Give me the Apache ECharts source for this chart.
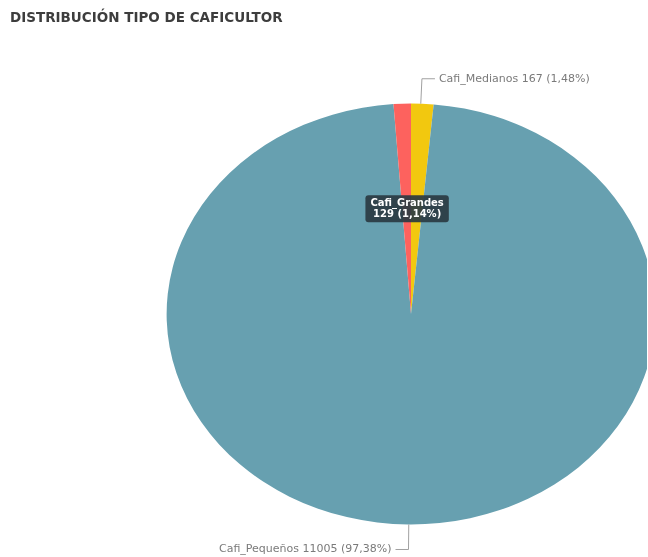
<!DOCTYPE html>
<html>
<head>
<meta charset="utf-8">
<script src="https://cdn.jsdelivr.net/npm/echarts@6/dist/echarts.min.js"></script>
<style>
html,body{margin:0;padding:0;background:#fff;}
#wrap{position:relative;width:648px;height:557px;overflow:hidden;}
#clip{position:absolute;left:0;top:0;width:647px;height:557px;overflow:hidden;}
#pie{position:absolute;left:0;top:0;width:648px;height:557px;transform:scaleX(1.161);transform-origin:411px 314px;}
#lab{position:absolute;left:0;top:0;width:648px;height:557px;}
</style>
</head>
<body>
<div id="wrap"><div id="clip"><div id="pie"></div></div><div id="lab"></div></div>
<script>
const titleText = 'DISTRIBUCIÓN TIPO DE CAFICULTOR';
const categories = ['Cafi_Medianos', 'Cafi_Pequeños', 'Cafi_Grandes'];
const values = [167, 11005, 129];
const colors = ['#f2c80f', '#67a0b0', '#fd625e'];

const total = values.reduce((a, b) => a + b, 0);
const pct = v => (v / total * 100).toFixed(2).replace('.', ',');

const center = [411, 314];
const radius = 210.5;

const data = categories.map((c, i) => ({name: c, value: values[i], itemStyle: {color: colors[i]}}));

const pieChart = echarts.init(document.getElementById('pie'), null, {renderer: 'svg'});
pieChart.setOption({
  animation: false,
  series: [{
    type: 'pie',
    center: center,
    radius: radius,
    startAngle: 90,
    clockwise: true,
    label: {show: false},
    labelLine: {show: false},
    itemStyle: {borderWidth: 0},
    data: data
  }]
});

const labData = categories.map((c, i) => {
  const d = {name: c, value: values[i], itemStyle: {color: 'rgba(0,0,0,0)'}};
  if (c === 'Cafi_Grandes') {
    d.label = {
      position: 'inside',
      formatter: p => p.name + '\n' + p.value + ' (' + pct(p.value) + '%)',
      color: '#ffffff',
      fontWeight: 'bold',
      fontFamily: 'DejaVu Sans',
      fontSize: 10,
      lineHeight: 11,
      backgroundColor: 'rgba(42,58,66,0.92)',
      borderRadius: 3,
      padding: [3, 5, 2, 5],
      offset: [0, 3]
    };
    d.labelLine = {show: false};
  }
  return d;
});

const labChart = echarts.init(document.getElementById('lab'));
labChart.setOption({
  animation: false,
  title: {
    text: titleText,
    left: 5,
    top: 6,
    textStyle: {fontFamily: 'DejaVu Sans', fontSize: 13.5, fontWeight: 'bold', color: '#3d3d3d'}
  },
  series: [{
    type: 'pie',
    center: center,
    radius: radius,
    startAngle: 90,
    clockwise: true,
    silent: true,
    avoidLabelOverlap: false,
    label: {
      show: true,
      position: 'outside',
      formatter: p => p.name + ' ' + p.value + ' (' + pct(p.value) + '%)',
      color: '#7a7a7a',
      fontSize: 11,
      fontFamily: 'DejaVu Sans',
      distanceToLabelLine: 4
    },
    labelLine: {
      show: true,
      length: 25,
      length2: 13,
      lineStyle: {color: '#a0a0a0', width: 1}
    },
    data: labData
  }]
});
</script>
</body>
</html>
